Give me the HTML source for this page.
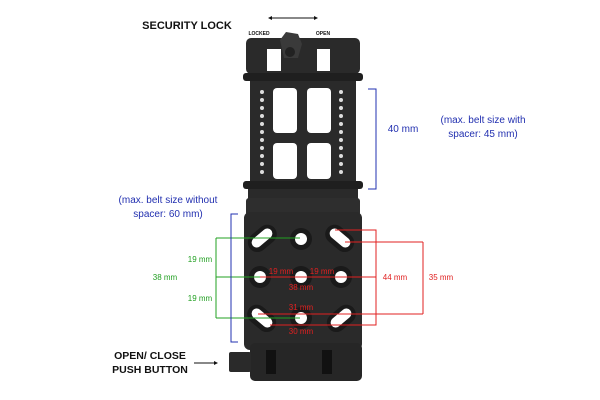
<!DOCTYPE html>
<html><head><style>
html,body{margin:0;padding:0;background:#fff;}
svg{display:block;font-family:"Liberation Sans",sans-serif;}
</style></head><body>
<svg width="600" height="400" viewBox="0 0 600 400">
<rect width="600" height="400" fill="#fff"/>
<rect x="246" y="38" width="114" height="36" rx="5" fill="#2a2a2a"/>
<rect x="267" y="49" width="14" height="22" fill="#fff"/>
<rect x="317" y="49" width="13" height="22" fill="#fff"/>
<polygon points="280,40 286,32 298,34 302,44 298,58 284,58" fill="#3a3a3a"/>
<circle cx="290" cy="52" r="5" fill="#222"/>
<rect x="250" y="72" width="106" height="120" fill="#2a2a2a"/>
<rect x="243" y="73" width="120" height="8" rx="3" fill="#1f1f1f"/>
<rect x="243" y="181" width="120" height="8" rx="3" fill="#1f1f1f"/>
<rect x="273" y="88" width="24" height="45" rx="4" fill="#fff"/>
<rect x="307" y="88" width="24" height="45" rx="4" fill="#fff"/>
<rect x="273" y="143" width="24" height="36" rx="4" fill="#fff"/>
<rect x="307" y="143" width="24" height="36" rx="4" fill="#fff"/>
<g fill="#ddd">
<circle cx="262" cy="92" r="2"/><circle cx="262" cy="100" r="2"/><circle cx="262" cy="108" r="2"/><circle cx="262" cy="116" r="2"/><circle cx="262" cy="124" r="2"/><circle cx="262" cy="132" r="2"/><circle cx="262" cy="140" r="2"/><circle cx="262" cy="148" r="2"/><circle cx="262" cy="156" r="2"/><circle cx="262" cy="164" r="2"/><circle cx="262" cy="172" r="2"/>
<circle cx="341" cy="92" r="2"/><circle cx="341" cy="100" r="2"/><circle cx="341" cy="108" r="2"/><circle cx="341" cy="116" r="2"/><circle cx="341" cy="124" r="2"/><circle cx="341" cy="132" r="2"/><circle cx="341" cy="140" r="2"/><circle cx="341" cy="148" r="2"/><circle cx="341" cy="156" r="2"/><circle cx="341" cy="164" r="2"/><circle cx="341" cy="172" r="2"/>
</g>
<rect x="248" y="189" width="110" height="12" fill="#2a2a2a"/>
<rect x="246" y="198" width="114" height="18" rx="3" fill="#2e2e2e"/>
<rect x="244" y="212" width="118" height="138" rx="6" fill="#2a2a2a"/>
<g fill="#1a1a1a">
<rect x="246" y="229" width="32" height="19" rx="9.5" transform="rotate(-40 262 238)"/>
<rect x="324" y="229" width="32" height="19" rx="9.5" transform="rotate(40 340 238)"/>
<circle cx="301" cy="239" r="11"/>
<circle cx="260" cy="277" r="11"/><circle cx="301" cy="277" r="11"/><circle cx="341" cy="277" r="11"/>
<rect x="246" y="309" width="32" height="19" rx="9.5" transform="rotate(40 262 318)"/>
<rect x="325" y="309" width="32" height="19" rx="9.5" transform="rotate(-40 341 318)"/>
<circle cx="301" cy="318" r="11"/>
</g>
<g fill="#fff">
<rect x="250" y="233" width="24" height="10" rx="5" transform="rotate(-40 262 238)"/>
<rect x="328" y="233" width="24" height="10" rx="5" transform="rotate(40 340 238)"/>
<circle cx="301" cy="239" r="6"/>
<circle cx="260" cy="277" r="6"/><circle cx="301" cy="277" r="6"/><circle cx="341" cy="277" r="6"/>
<rect x="250" y="313" width="24" height="10" rx="5" transform="rotate(40 262 318)"/>
<rect x="329" y="313" width="24" height="10" rx="5" transform="rotate(-40 341 318)"/>
<circle cx="301" cy="318" r="6"/>
</g>
<rect x="250" y="343" width="112" height="38" rx="5" fill="#262626"/>
<rect x="229" y="352" width="22" height="20" rx="2" fill="#2a2a2a"/>
<rect x="266" y="350" width="10" height="24" fill="#111"/>
<rect x="322" y="350" width="10" height="24" fill="#111"/>
<g stroke="#22a022" stroke-width="1" fill="none">
<path d="M216 238V318M216 238H300M216 277H260M216 318H300"/>
</g>
<g fill="#22a022" font-size="8" text-anchor="middle">
<text x="200" y="262">19 mm</text><text x="200" y="301">19 mm</text><text x="165" y="280">38 mm</text>
</g>
<g stroke="#2230b0" stroke-width="1" fill="none">
<path d="M238 214H231V342H238"/>
<path d="M368 89H376V189H368"/>
</g>
<g fill="#2230b0" font-size="10" text-anchor="middle">
<text x="168" y="203">(max. belt size without</text><text x="168" y="217">spacer: 60 mm)</text>
<text x="403" y="132">40 mm</text>
<text x="483" y="123">(max. belt size with</text><text x="483" y="137">spacer: 45 mm)</text>
</g>
<g stroke="#e02020" stroke-width="1" fill="none">
<path d="M335 230H376V325H270M423 242V314M345 242H423M258 314H423M260 277H376"/>
</g>
<g fill="#e02020" font-size="8" text-anchor="middle">
<text x="395" y="280">44 mm</text><text x="441" y="280">35 mm</text>
<text x="281" y="274">19 mm</text><text x="322" y="274">19 mm</text>
<text x="301" y="290">38 mm</text><text x="301" y="310">31 mm</text><text x="301" y="334">30 mm</text>
</g>
<g fill="#111" font-weight="bold">
<text x="187" y="29" font-size="11" text-anchor="middle">SECURITY LOCK</text>
<text x="259" y="35" font-size="5" text-anchor="middle">LOCKED</text>
<text x="323" y="35" font-size="5" text-anchor="middle">OPEN</text>
<text x="150" y="359" font-size="10.5" text-anchor="middle">OPEN/ CLOSE</text>
<text x="150" y="373" font-size="10.5" text-anchor="middle">PUSH BUTTON</text>
</g>
<path d="M270 18H316" stroke="#111" stroke-width="1"/>
<path d="M268 18l4-2v4zM318 18l-4-2v4z" fill="#111"/>
<path d="M194 363H215" stroke="#111" stroke-width="1"/>
<path d="M218 363l-4-2v4z" fill="#111"/>
</svg>
</body></html>
